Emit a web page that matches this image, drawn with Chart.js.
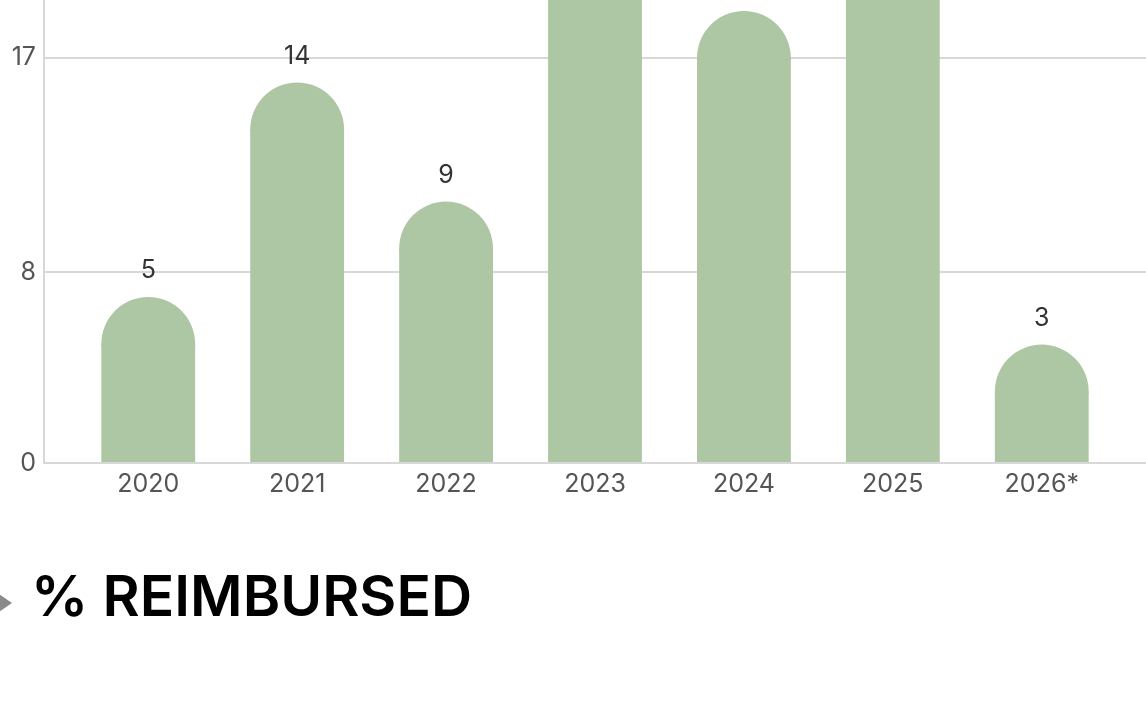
<!DOCTYPE html>
<html>
<head>
<meta charset="utf-8">
<script src="https://cdn.jsdelivr.net/npm/chart.js@4"></script>
<style>
  html, body { margin: 0; padding: 0; background: #fff; overflow: hidden; }
  body { width: 1146px; height: 712px; position: relative; font-family: Inter, "Noto Sans", sans-serif; }
  #wrap { position: absolute; left: 0; top: -299px; width: 1146px; height: 812px; }
  #title { position: absolute; left: 31px; top: 562px; font-size: 57px; font-weight: 600; color: #000; line-height: 1.2; }
  #marker { position: absolute; left: -4px; top: 592px; width: 0; height: 0;
    border-top: 11px solid transparent; border-bottom: 11px solid transparent; border-left: 16px solid #8a8a8a; }
</style>
</head>
<body>
<div id="wrap"><canvas id="chart"></canvas></div>
<div id="marker"></div>
<div id="title">% REIMBURSED</div>
<script>
// ===== Data =====
const years = ['2020', '2021', '2022', '2023', '2024', '2025', '2026*'];
const counts = [5, 14, 9, 21, 17, 20, 3];
const yTicks = [0, 8, 17, 25];

const barColor = 'rgb(173, 198, 164)';
const gridColor = '#d8d8d8';

// rounded cap + value label above each bar
const capsAndLabels = {
    id: 'capsAndLabels',
    afterDatasetsDraw(chart) {
        const ctx = chart.ctx;
        const meta = chart.getDatasetMeta(0);
        ctx.save();
        meta.data.forEach((bar, i) => {
            const r = bar.width / 2;
            ctx.fillStyle = barColor;
            ctx.beginPath();
            ctx.moveTo(bar.x - r, bar.y + 2);
            ctx.lineTo(bar.x - r, bar.y);
            ctx.arc(bar.x, bar.y, r, Math.PI, 0);
            ctx.lineTo(bar.x + r, bar.y + 2);
            ctx.closePath();
            ctx.fill();

            ctx.fillStyle = '#333';
            ctx.font = '25px Inter';
            ctx.textAlign = 'center';
            ctx.textBaseline = 'middle';
            ctx.fillText(String(counts[i]), bar.x, bar.y - r - 26);
        });
        ctx.restore();
    }
};

const data = {
    datasets: [{
        data: years.map((y, i) => ({ x: i, y: counts[i] })),
        backgroundColor: barColor,
        borderWidth: 0,
        categoryPercentage: 0.7,
        barPercentage: 0.9
    }]
};

const options = {
    responsive: true,
    maintainAspectRatio: false,
    animation: false,
    layout: { padding: { top: 47, left: 0, right: 0, bottom: 0 } },
    plugins: { legend: { display: false }, tooltip: { enabled: false } },
    scales: {
        x: {
            type: 'linear',
            offset: false,
            min: -0.7,
            max: years.length - 0.3,
            afterBuildTicks: (scale) => { scale.ticks = years.map((_, i) => ({ value: i })); },
            afterFit: (scale) => { scale.height = 50; },
            grid: { display: false, drawTicks: false },
            border: { display: true, color: gridColor, width: 2 },
            ticks: {
                padding: 6,
                color: '#555',
                font: { family: 'Inter', size: 25 },
                callback: (v) => years[v],
                autoSkip: false,
                maxRotation: 0
            }
        },
        y: {
            min: 0,
            max: 30,
            afterBuildTicks: (scale) => { scale.ticks = yTicks.map(v => ({ value: v })); },
            afterFit: (scale) => { scale.width = 44; },
            grid: { color: gridColor, lineWidth: 2, drawTicks: false },
            border: { display: true, color: gridColor, width: 2 },
            ticks: {
                padding: 8,
                color: '#555',
                font: { family: 'Inter', size: 25 }
            }
        }
    }
};

new Chart(document.getElementById('chart'), {
    type: 'bar',
    data: data,
    options: options,
    plugins: [capsAndLabels]
});
</script>
</body>
</html>
